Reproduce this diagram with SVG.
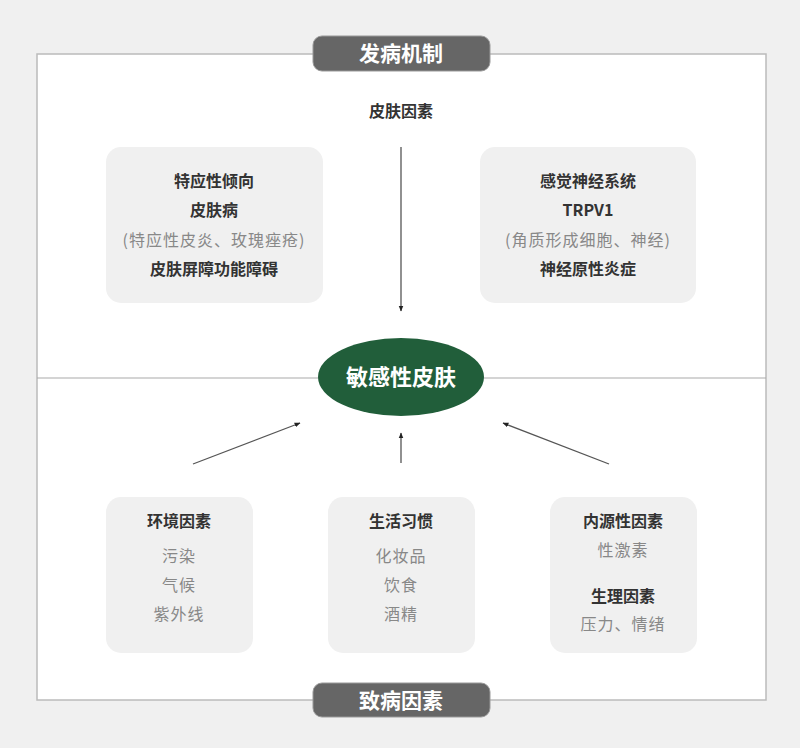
<svg xmlns="http://www.w3.org/2000/svg" width="800" height="748" viewBox="0 0 800 748">
<defs>
<style>
text{font-family:"Noto Sans CJK SC","Noto Sans",sans-serif;text-anchor:middle;dominant-baseline:central}
.b{font-size:16px;font-weight:bold;fill:#333}
.g{font-size:16px;fill:#888;letter-spacing:1px}
.box{fill:#f0f0f0}
.pill{fill:#666;stroke:#999;stroke-width:1}
.pt{font-size:21px;font-weight:bold;fill:#fff}
.ln{stroke:#555;stroke-width:1.3;fill:none}
</style>
<marker id="ah" viewBox="0 0 10 10" refX="9" refY="5" markerWidth="6" markerHeight="6" orient="auto" markerUnits="userSpaceOnUse">
<path d="M0,1 L10,5 L0,9 z" fill="#222"/>
</marker>
</defs>
<rect width="800" height="748" fill="#f0f0f0"/>
<rect x="37" y="54" width="729" height="646" fill="#fff" stroke="#bbb" stroke-width="1.5"/>
<line x1="37" y1="378" x2="766" y2="378" stroke="#aaa" stroke-width="1.2"/>
<g id="connectors">
<line class="ln" x1="401" y1="147" x2="401" y2="311" marker-end="url(#ah)"/>
<line class="ln" x1="193" y1="464" x2="300" y2="423" marker-end="url(#ah)"/>
<line class="ln" x1="401" y1="463" x2="401" y2="433" marker-end="url(#ah)"/>
<line class="ln" x1="609" y1="464" x2="503" y2="423" marker-end="url(#ah)"/>
</g>
<g id="title-top">
<rect class="pill" x="313" y="36" width="177" height="35" rx="9"/>
<text class="pt" x="401" y="52">发病机制</text>
</g>
<g id="title-bottom">
<rect class="pill" x="313" y="683" width="177" height="34" rx="9"/>
<text class="pt" x="401" y="699">致病因素</text>
</g>
<g id="skin-factor">
<text class="b" x="401" y="110">皮肤因素</text>
</g>
<g id="box-atopic">
<rect class="box" x="106" y="147" width="217" height="156" rx="15"/>
<text class="b" x="214" y="180">特应性倾向</text>
<text class="b" x="214" y="209">皮肤病</text>
<text class="g" x="214" y="239">(特应性皮炎、玫瑰痤疮)</text>
<text class="b" x="214" y="268">皮肤屏障功能障碍</text>
</g>
<g id="box-nerve">
<rect class="box" x="480" y="147" width="216" height="156" rx="15"/>
<text class="b" x="588" y="180">感觉神经系统</text>
<text class="b" x="588" y="209">TRPV1</text>
<text class="g" x="588" y="239">(角质形成细胞、神经)</text>
<text class="b" x="588" y="268">神经原性炎症</text>
</g>
<g id="center">
<ellipse cx="401" cy="377" rx="83" ry="39" fill="#215e3a"/>
<text x="401" y="375" style="font-size:22px;font-weight:bold;fill:#fff">敏感性皮肤</text>
</g>
<g id="box-env">
<rect class="box" x="106" y="497" width="147" height="156" rx="15"/>
<text class="b" x="179" y="520">环境因素</text>
<text class="g" x="179" y="555">污染</text>
<text class="g" x="179" y="584">气候</text>
<text class="g" x="179" y="613">紫外线</text>
</g>
<g id="box-life">
<rect class="box" x="328" y="497" width="147" height="156" rx="15"/>
<text class="b" x="401" y="520">生活习惯</text>
<text class="g" x="401" y="555">化妆品</text>
<text class="g" x="401" y="584">饮食</text>
<text class="g" x="401" y="613">酒精</text>
</g>
<g id="box-internal">
<rect class="box" x="550" y="497" width="147" height="156" rx="15"/>
<text class="b" x="623" y="520">内源性因素</text>
<text class="g" x="623" y="549">性激素</text>
<text class="b" x="623" y="595">生理因素</text>
<text class="g" x="623" y="623">压力、情绪</text>
</g>
</svg>
